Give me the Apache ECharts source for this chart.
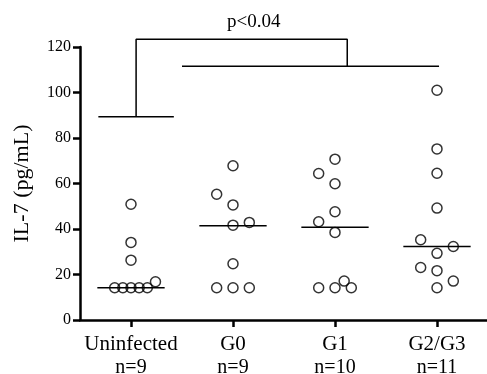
<!DOCTYPE html>
<html>
<head>
<meta charset="utf-8">
<script src="https://cdn.jsdelivr.net/npm/echarts@6/dist/echarts.min.js"></script>
<style>
  html, body { margin: 0; padding: 0; background: #fff; }
  #chart { width: 487px; height: 374px; }
</style>
</head>
<body>
<div id="chart"></div>
<script>
const categories = ['Uninfected', 'G0', 'G1', 'G2/G3'];
const groupSizes = ['n=9', 'n=9', 'n=10', 'n=11'];
const yTicks = [0, 20, 40, 60, 80, 100, 120];

// IL-7 values per group
const uninfected = [14.2, 14.2, 14.2, 14.2, 14.2, 16.8, 26.3, 34.1, 50.9];
const g0 = [67.8, 55.3, 50.6, 41.7, 42.9, 24.7, 14.2, 14.2, 14.2];
const g1 = [70.7, 64.4, 59.9, 47.6, 43.2, 38.5, 14.2, 14.2, 14.2, 17.1];
const g2g3 = [101, 75.2, 64.5, 49.2, 35.3, 32.3, 29.3, 23.1, 21.7, 17.1, 14.2];
const medians = [14.2, 41.4, 40.8, 32.3];

// horizontal spread of the dots (in category units)
const uninfectedJitter = [-0.16, -0.08, 0, 0.08, 0.16, 0.24, 0, 0, 0];
const g0Jitter = [0, -0.16, 0, 0, 0.16, 0, -0.16, 0, 0.16];
const g1Jitter = [0, -0.16, 0, 0, -0.16, 0, -0.16, 0, 0.16, 0.09];
const g2g3Jitter = [0, 0, 0, 0, -0.16, 0.16, 0, -0.16, 0, 0.16, 0];

// significance bracket, in data units [category position, value]
const bracketLow = [[-0.32, 89.3], [0.42, 89.3]];
const bracketTop = [[0.05, 89.3], [0.05, 123.4], [2.12, 123.4], [2.12, 111.5]];
const bracketHigh = [[0.5, 111.5], [3.02, 111.5]];
const pValue = 'p<0.04';

const groups = [uninfected, g0, g1, g2g3];
const jitters = [uninfectedJitter, g0Jitter, g1Jitter, g2g3Jitter];
const categoryPositions = categories.map((c, i) => i);

const font = '"Liberation Serif", "Times New Roman", serif';
const chart = echarts.init(document.getElementById('chart'), null, { renderer: 'canvas' });

const dotData = [];
groups.forEach((vals, i) => {
  vals.forEach((v, k) => dotData.push([i + jitters[i][k], v]));
});

chart.setOption({
  animation: false,
  backgroundColor: '#fff',
  title: {
    text: pValue,
    left: 222,
    top: 8,
    textStyle: { fontFamily: font, fontSize: 19, fontWeight: 'normal', color: '#000' }
  },
  grid: { left: 80, top: 47, width: 408, bottom: 54, containLabel: false, outerBoundsMode: 'none' },
  xAxis: {
    type: 'value',
    min: -0.5,
    max: 3.5,
    axisLine: { show: true, onZero: false, lineStyle: { color: '#000', width: 2.5 } },
    axisTick: {
      show: true,
      customValues: categoryPositions,
      length: 7,
      lineStyle: { color: '#000', width: 2.5 }
    },
    axisLabel: {
      margin: 12,
      customValues: categoryPositions,
      showMinLabel: true,
      showMaxLabel: true,
      formatter: (val) => {
        const idx = Math.round(val);
        return '{a|' + categories[idx] + '}\n{b|' + groupSizes[idx] + '}';
      },
      rich: {
        a: { fontFamily: font, fontSize: 21, lineHeight: 24, color: '#000' },
        b: { fontFamily: font, fontSize: 20, lineHeight: 24, color: '#000' }
      }
    },
    splitLine: { show: false }
  },
  yAxis: {
    type: 'value',
    min: yTicks[0],
    max: yTicks[yTicks.length - 1],
    interval: 20,
    name: 'IL-7 (pg/mL)',
    nameLocation: 'middle',
    nameGap: 47,
    nameTextStyle: { fontFamily: font, fontSize: 22, color: '#000' },
    axisLine: { show: true, onZero: false, lineStyle: { color: '#000', width: 2.5 } },
    axisTick: { show: true, inside: false, length: 7, lineStyle: { color: '#000', width: 2.5 } },
    axisLabel: { fontFamily: font, fontSize: 16, color: '#000', margin: 9 },
    splitLine: { show: false }
  },
  series: [
    {
      type: 'scatter',
      symbol: 'circle',
      symbolSize: 10,
      itemStyle: { color: 'rgba(0,0,0,0)', borderColor: '#000', borderWidth: 1.5 },
      data: dotData
    },
    {
      type: 'custom',
      data: medians.map((m, i) => [i, m]),
      renderItem: (params, api) => {
        const i = api.value(0);
        const m = api.value(1);
        const a = api.coord([i - 0.33, m]);
        const b = api.coord([i + 0.33, m]);
        return {
          type: 'line',
          shape: { x1: a[0], y1: a[1], x2: b[0], y2: b[1] },
          style: { stroke: '#000', lineWidth: 1.6 }
        };
      }
    },
    ...[bracketLow, bracketTop, bracketHigh].map((path) => ({
      type: 'line',
      clip: false,
      symbol: 'none',
      lineStyle: { color: '#000', width: 1.5 },
      data: path
    }))
  ]
});
</script>
</body>
</html>
